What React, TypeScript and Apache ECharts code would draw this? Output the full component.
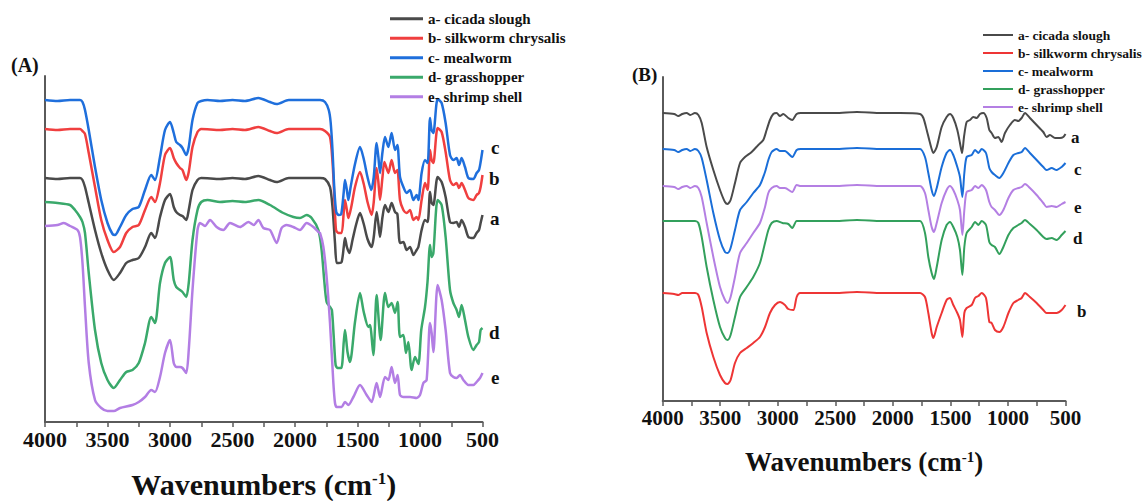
import React, { useEffect, useRef } from "react";
import * as echarts from "echarts";

// ---- Names ----
const names = ["a- cicada slough", "b- silkworm chrysalis", "c- mealworm", "d- grasshopper", "e- shrimp shell"];
const tickLabels = [4000, 3500, 3000, 2500, 2000, 1500, 1000, 500];

// ---- Panel A: [wavenumber, transmittance (a.u.)] ----
const A_a: number[][] = [[4000,244],[3900,243],[3800,244],[3720,244],[3700,242],[3680,235],[3650,219],[3600,192],[3550,169],[3500,152],[3450,142],[3400,149],[3350,159],[3300,162],[3250,164],[3200,175],[3150,189],[3120,184],[3080,205],[3040,222],[3000,228],[2970,215],[2950,210],[2920,207],[2900,206],[2870,202],[2850,212],[2820,232],[2780,242],[2750,244],[2600,243],[2500,244],[2400,243],[2293,246],[2200,242],[2147,240],[2050,244],[1900,244],[1800,244],[1760,243],[1720,235],[1700,215],[1680,179],[1667,159],[1650,159],[1627,160],[1610,175],[1600,184],[1585,175],[1565,169],[1540,182],[1510,198],[1480,209],[1450,198],[1420,183],[1387,175],[1370,185],[1347,210],[1333,198],[1320,185],[1300,205],[1280,217],[1253,210],[1227,219],[1200,210],[1181,208],[1160,179],[1133,180],[1107,172],[1080,175],[1053,167],[1027,172],[1013,175],[987,192],[960,202],[939,200],[920,230],[907,219],[893,217],[859,245],[827,240],[795,225],[760,200],[733,199],[707,200],[688,195],[667,202],[640,195],[613,185],[573,184],[547,189],[528,192],[515,199],[500,207]];
const A_b: number[][] = [[4000,293],[3900,292],[3800,293],[3720,293],[3700,291],[3680,288],[3650,269],[3600,235],[3550,202],[3500,182],[3450,170],[3400,175],[3350,189],[3300,195],[3250,197],[3200,212],[3150,225],[3120,220],[3080,239],[3040,267],[3000,274],[2970,264],[2950,259],[2920,254],[2900,252],[2870,242],[2850,250],[2820,275],[2780,290],[2750,293],[2600,292],[2500,293],[2400,292],[2293,295],[2200,291],[2147,289],[2050,293],[1900,293],[1800,293],[1760,291],[1720,285],[1700,260],[1688,232],[1672,192],[1653,189],[1627,189],[1610,210],[1600,222],[1585,212],[1573,204],[1550,215],[1520,235],[1480,250],[1450,238],[1420,220],[1387,207],[1370,220],[1347,254],[1333,240],[1320,222],[1300,245],[1285,260],[1253,249],[1227,262],[1200,249],[1181,252],[1160,222],[1133,212],[1107,209],[1080,212],[1053,202],[1027,205],[1013,202],[987,222],[960,239],[939,232],[920,272],[907,262],[893,259],[859,294],[827,290],[795,270],[760,242],[733,237],[707,239],[688,234],[667,239],[640,232],[613,224],[573,222],[547,227],[528,229],[515,235],[500,247]];
const A_c: number[][] = [[4000,322],[3900,321],[3800,322],[3720,322],[3700,320],[3680,312],[3650,292],[3600,255],[3550,222],[3500,199],[3460,188],[3440,187],[3400,195],[3350,207],[3300,213],[3250,215],[3200,232],[3150,247],[3120,242],[3080,265],[3040,292],[3000,300],[2970,289],[2950,280],[2920,277],[2900,274],[2870,267],[2850,275],[2820,302],[2780,319],[2750,321],[2700,322],[2600,321],[2500,322],[2400,321],[2293,324],[2200,320],[2147,318],[2050,322],[1900,322],[1800,322],[1760,320],[1730,312],[1715,300],[1700,272],[1685,232],[1670,210],[1650,207],[1630,208],[1610,230],[1600,242],[1585,232],[1573,222],[1555,235],[1520,258],[1480,275],[1450,263],[1420,245],[1390,232],[1370,245],[1347,279],[1333,265],[1320,249],[1300,270],[1280,285],[1253,275],[1227,289],[1200,272],[1181,277],[1160,245],[1133,235],[1107,229],[1080,232],[1053,222],[1027,227],[1013,222],[987,249],[960,262],[939,259],[920,304],[907,292],[893,289],[859,323],[827,319],[795,299],[760,267],[733,262],[707,264],[688,257],[667,264],[640,255],[613,244],[573,243],[547,249],[528,252],[515,260],[500,272]];
const A_d: number[][] = [[4000,220],[3900,219],[3800,217],[3760,212],[3720,205],[3700,200],[3680,189],[3650,149],[3600,92],[3550,59],[3500,42],[3450,34],[3400,42],[3350,50],[3300,52],[3250,59],[3200,79],[3150,105],[3120,99],[3080,139],[3040,159],[3000,165],[2970,142],[2950,135],[2920,132],[2900,130],[2870,125],[2850,139],[2820,182],[2780,212],[2750,220],[2700,222],[2600,220],[2500,221],[2400,220],[2293,222],[2200,217],[2093,209],[2013,205],[1960,204],[1907,207],[1867,204],[1813,192],[1787,172],[1765,140],[1747,120],[1720,115],[1705,112],[1690,85],[1675,57],[1660,54],[1630,54],[1610,80],[1600,92],[1580,70],[1560,60],[1520,100],[1480,129],[1450,110],[1413,95],[1400,97],[1373,67],[1347,127],[1315,82],[1280,129],[1253,115],[1227,119],[1200,109],[1179,120],[1160,85],[1133,87],[1112,69],[1093,80],[1067,52],[1040,65],[1013,58],[990,92],[960,115],[940,140],[920,177],[907,165],[893,169],[859,222],[827,217],[795,185],[760,132],[733,119],[707,112],[688,105],[667,117],[640,102],[613,85],[573,72],[547,77],[528,80],[515,92],[500,94]];
const A_e: number[][] = [[4000,196],[3900,197],[3850,199],[3800,196],[3740,192],[3720,185],[3700,159],[3680,115],[3650,59],[3600,22],[3550,14],[3500,11],[3450,11],[3400,14],[3300,17],[3250,20],[3200,25],[3150,32],[3120,30],[3080,45],[3040,69],[3000,82],[2970,59],[2950,55],[2920,55],[2900,54],[2870,49],[2850,72],[2820,132],[2780,192],[2760,199],[2720,196],[2680,202],[2627,195],[2573,192],[2520,199],[2440,195],[2373,200],[2330,197],[2293,202],[2253,194],[2200,192],[2147,179],[2107,194],[2067,197],[2013,195],[1960,192],[1907,199],[1853,195],[1813,190],[1800,189],[1773,175],[1747,145],[1720,99],[1693,39],[1680,19],[1667,15],[1627,15],[1600,20],[1573,17],[1533,25],[1480,37],[1427,27],[1387,20],[1347,39],[1320,25],[1280,45],[1253,42],[1227,55],[1200,39],[1179,47],[1160,27],[1133,25],[1080,25],[1027,24],[1000,27],[973,39],[947,42],[920,99],[907,89],[893,70],[859,137],[827,122],[795,92],[760,49],[733,45],[707,44],[680,47],[653,42],[613,37],[573,37],[547,40],[520,44],[500,49]];

// ---- Panel B ----
const B_a: number[][] = [[4000,288],[3900,287],[3864,285],[3830,287],[3792,288],[3760,286],[3720,288],[3690,286],[3661,278],[3618,254],[3560,231],[3502,211],[3459,199],[3436,197],[3410,201],[3372,218],[3328,238],[3285,244],[3227,249],[3169,256],[3126,261],[3097,271],[3068,281],[3039,287],[3010,288],[2981,285],[2952,287],[2909,283],[2874,281],[2836,287],[2800,288],[2500,288],[2312,289],[2100,288],[1938,288],[1764,287],[1735,283],[1706,271],[1677,258],[1648,248],[1619,254],[1576,274],[1533,284],[1504,287],[1475,283],[1440,271],[1417,258],[1399,248],[1382,264],[1359,279],[1330,281],[1301,284],[1272,283],[1243,287],[1214,288],[1185,283],[1162,271],[1142,268],[1113,263],[1084,264],[1055,259],[1026,268],[983,276],[939,281],[910,280],[881,283],[852,288],[809,283],[751,276],[693,269],[664,264],[635,266],[591,263],[548,263],[519,264],[500,267]];
const B_b: number[][] = [[4000,108],[3900,107],[3864,106],[3830,108],[3792,108],[3720,108],[3690,106],[3661,94],[3618,68],[3560,44],[3502,26],[3459,18],[3436,17],[3410,21],[3372,38],[3328,48],[3270,53],[3213,58],[3155,64],[3111,74],[3068,88],[3024,96],[2981,99],[2938,96],[2909,92],[2865,91],[2836,104],[2807,108],[2500,108],[2312,109],[2100,108],[1938,108],[1764,108],[1721,104],[1692,88],[1663,68],[1648,63],[1619,74],[1576,88],[1533,101],[1504,103],[1475,96],[1440,88],[1417,81],[1396,64],[1379,88],[1359,93],[1315,96],[1286,103],[1257,105],[1228,108],[1191,103],[1162,79],[1142,78],[1113,71],[1075,69],[1040,74],[996,88],[953,98],[910,101],[881,103],[852,108],[809,104],[751,98],[693,91],[664,88],[620,88],[577,88],[533,91],[500,96]];
const B_c: number[][] = [[4000,252],[3900,251],[3864,249],[3830,251],[3792,252],[3760,250],[3720,252],[3690,250],[3661,243],[3618,221],[3560,188],[3502,161],[3459,149],[3436,148],[3410,153],[3372,171],[3328,191],[3270,199],[3213,208],[3155,216],[3111,229],[3082,241],[3053,249],[3010,252],[2981,250],[2938,250],[2874,244],[2836,251],[2800,252],[2500,252],[2312,253],[2100,252],[1938,252],[1764,252],[1721,244],[1692,228],[1663,211],[1643,205],[1619,213],[1576,234],[1533,248],[1504,251],[1475,246],[1440,234],[1417,224],[1396,204],[1379,228],[1359,244],[1315,246],[1286,251],[1257,248],[1228,252],[1191,248],[1162,233],[1142,229],[1113,226],[1075,223],[1040,228],[996,238],[953,246],[910,248],[881,249],[852,253],[809,248],[751,241],[693,234],[664,231],[620,233],[577,231],[533,234],[500,238]];
const B_d: number[][] = [[4000,180],[3900,180],[3800,180],[3720,180],[3690,178],[3661,164],[3618,134],[3560,101],[3502,74],[3459,63],[3436,61],[3410,66],[3372,84],[3328,104],[3270,114],[3213,124],[3155,138],[3111,158],[3082,171],[3053,178],[3010,180],[2960,178],[2909,177],[2874,173],[2836,180],[2800,180],[2500,180],[2312,181],[2100,180],[1938,180],[1764,180],[1721,168],[1692,144],[1663,128],[1643,122],[1619,134],[1576,161],[1533,176],[1504,179],[1475,174],[1440,164],[1417,151],[1396,126],[1379,154],[1359,168],[1315,174],[1286,179],[1257,176],[1228,180],[1191,176],[1162,159],[1142,156],[1113,154],[1075,147],[1040,154],[996,166],[953,173],[910,176],[881,178],[852,181],[809,177],[751,171],[693,164],[664,162],[620,163],[577,161],[533,166],[500,170]];
const B_e: number[][] = [[4000,215],[3900,214],[3864,212],[3830,214],[3792,215],[3760,213],[3720,215],[3690,213],[3661,204],[3618,178],[3560,144],[3502,114],[3459,101],[3436,98],[3410,104],[3372,124],[3328,148],[3270,158],[3213,168],[3155,178],[3111,194],[3082,208],[3053,213],[3010,215],[2981,213],[2938,213],[2874,209],[2836,216],[2800,215],[2500,215],[2312,216],[2100,215],[1938,215],[1764,215],[1721,208],[1692,191],[1663,174],[1643,169],[1619,178],[1576,198],[1533,211],[1504,215],[1475,211],[1440,201],[1417,191],[1396,166],[1379,191],[1359,209],[1315,211],[1286,215],[1257,213],[1228,216],[1191,211],[1162,199],[1142,194],[1113,191],[1075,186],[1040,191],[996,203],[953,211],[910,213],[881,214],[852,217],[809,213],[751,206],[693,198],[664,194],[620,195],[577,194],[533,197],[500,199]];

const colorsA = ["#4a4a4a", "#f03f3f", "#1f6fdc", "#3aa96b", "#b37ee4"];
const colorsB = ["#4a4a4a", "#ee3535", "#1a6ed8", "#33a05c", "#b47fe3"];

const FONT = "Liberation Serif";

export default function App() {
  const ref = useRef<HTMLDivElement>(null);
  useEffect(() => {
    document.body.style.margin = "0";
    const chart = echarts.init(ref.current!, null, { renderer: "svg" });

    const axisColor = "#5a5a5a";
    const xAxisBase = (gridIndex: number, fs: number, gap: number, nameFs: number) => ({
      gridIndex,
      type: "value",
      min: 500,
      max: 4000,
      interval: 500,
      inverse: true,
      axisLine: { show: true, onZero: false, lineStyle: { color: axisColor, width: 2 } },
      axisTick: { show: true, length: 5, lineStyle: { color: axisColor, width: 1.5 } },
      minorTick: { show: true, splitNumber: 2, length: 5, lineStyle: { color: axisColor, width: 1.5 } },
      splitLine: { show: false },
      axisLabel: {
        margin: 6,
        color: "#111",
        fontFamily: FONT,
        fontWeight: "bold",
        fontSize: fs,
        formatter: (v: number) => (tickLabels.includes(v) ? String(v) : ""),
      },
      name: "{m|Wavenumbers (cm}{s|-1}{m|)}",
      nameLocation: "middle",
      nameGap: gap,
      nameTextStyle: {
        rich: {
          m: { fontFamily: FONT, fontWeight: "bold", fontSize: nameFs, color: "#111", lineHeight: nameFs - 2 },
          s: { fontFamily: FONT, fontWeight: "bold", fontSize: Math.round(nameFs * 0.55), color: "#111", verticalAlign: "top", lineHeight: nameFs - 2 },
        },
      },
    });
    const yAxisBase = (gridIndex: number, max: number) => ({
      gridIndex,
      type: "value",
      min: 0,
      max,
      axisLine: { show: true, lineStyle: { color: axisColor, width: 2 } },
      axisTick: { show: false },
      axisLabel: { show: false },
      splitLine: { show: false },
    });

    const mk = (
      name: string,
      data: number[][],
      color: string,
      idx: number,
      label: string,
      lw: number,
      fs: number,
      off: number[]
    ) => ({
      name,
      type: "line",
      xAxisIndex: idx,
      yAxisIndex: idx,
      data,
      smooth: 0.25,
      showSymbol: false,
      symbol: "none",
      lineStyle: { color, width: lw },
      itemStyle: { color },
      endLabel: {
        show: true,
        formatter: label,
        fontFamily: FONT,
        fontWeight: "bold",
        fontSize: fs,
        color: "#111",
        distance: 6,
        offset: off,
      },
      z: 3,
    });

    const seriesA = [
      mk(names[0], A_a, colorsA[0], 0, "a", 2.5, 19, [23, 3]),
      mk(names[1], A_b, colorsA[1], 0, "b", 2.5, 19, [23, 3]),
      mk(names[2], A_c, colorsA[2], 0, "c", 2.5, 19, [23, -3]),
      mk(names[3], A_d, colorsA[3], 0, "d", 2.5, 19, [23, 4]),
      mk(names[4], A_e, colorsA[4], 0, "e", 2.5, 19, [23, 4]),
    ];
    const seriesB = [
      mk(names[0], B_a, colorsB[0], 1, "a", 2, 17, [20, 3]),
      mk(names[1], B_b, colorsB[1], 1, "b", 2, 17, [27, 6]),
      mk(names[2], B_c, colorsB[2], 1, "c", 2, 17, [22, 6]),
      mk(names[3], B_d, colorsB[3], 1, "d", 2, 17, [23, 7]),
      mk(names[4], B_e, colorsB[4], 1, "e", 2, 17, [22, 5]),
    ];

    chart.setOption({
      animation: false,
      backgroundColor: "#ffffff",
      grid: [
        { left: 45, top: 76, width: 437.5, height: 346, outerBoundsMode: "none", containLabel: false },
        { left: 662.7, top: 77, width: 402.8, height: 324, outerBoundsMode: "none", containLabel: false },
      ],
      xAxis: [xAxisBase(0, 22, 48, 30), xAxisBase(1, 21, 48, 27)],
      yAxis: [yAxisBase(0, 346), yAxisBase(1, 324)],
      legend: [
        {
          orient: "vertical",
          left: 385,
          top: 4,
          icon: "rect",
          itemWidth: 33,
          itemHeight: 3,
          itemGap: 0,
          selectedMode: false,
          data: names.map((n, i) => ({ name: n, itemStyle: { color: colorsA[i] } })),
          textStyle: { fontFamily: FONT, fontWeight: "bold", fontSize: 15, color: "#111", lineHeight: 19.5 },
        },
        {
          orient: "vertical",
          left: 978,
          top: 21,
          icon: "rect",
          itemWidth: 30,
          itemHeight: 2,
          itemGap: 0,
          selectedMode: false,
          data: names.map((n, i) => ({ name: n, itemStyle: { color: colorsB[i] } })),
          textStyle: { fontFamily: FONT, fontWeight: "bold", fontSize: 13.5, color: "#111", lineHeight: 18 },
        },
      ],
      graphic: [
        { type: "text", left: 11, top: 55, style: { text: "(A)", fontFamily: FONT, fontWeight: "bold", fontSize: 20, fill: "#111" } },
        { type: "text", left: 632, top: 65, style: { text: "(B)", fontFamily: FONT, fontWeight: "bold", fontSize: 19, fill: "#111" } },
      ],
      series: [...seriesA, ...seriesB],
    });

    return () => chart.dispose();
  }, []);

  return <div ref={ref} style={{ width: 1146, height: 501 }} />;
}
